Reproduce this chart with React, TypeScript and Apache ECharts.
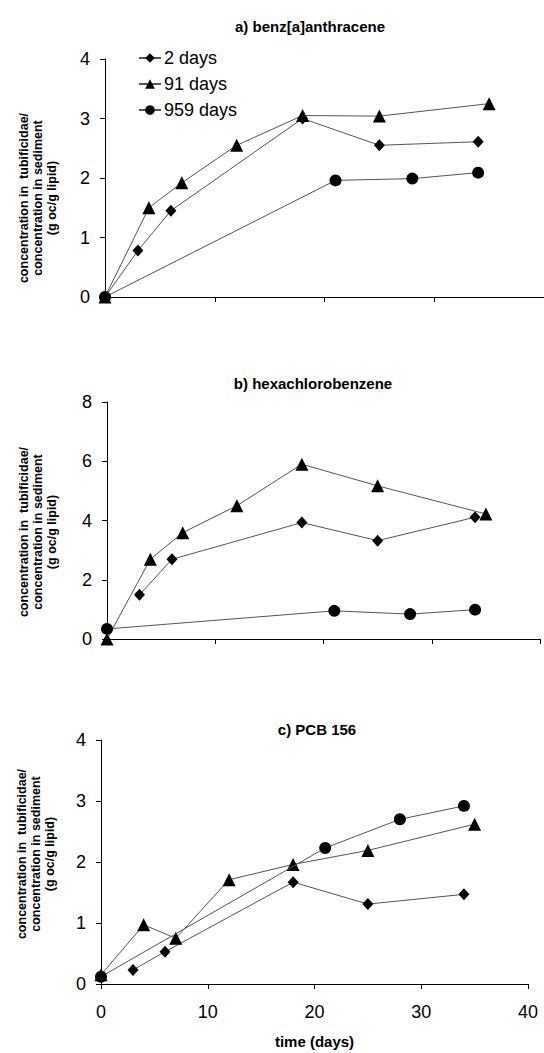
import React, { useEffect, useRef } from "react";
import * as echarts from "echarts";

const seriesNames = ["2 days", "91 days", "959 days"];
const symbols = ["diamond", "triangle", "circle"];
const symbolSizes = [[11, 12], 13, 12];

// panel a) benz[a]anthracene
const aDiamond = [[0, 0], [3, 0.78], [6, 1.45], [18, 3.0], [25, 2.55], [34, 2.61]];
const aTriangle = [[0, 0], [4, 1.5], [7, 1.92], [12, 2.55], [18, 3.05], [25, 3.04], [35, 3.25]];
const aCircle = [[0, 0], [21, 1.96], [28, 1.99], [34, 2.09]];

// panel b) hexachlorobenzene
const bDiamond = [[3, 1.49], [6, 2.69], [18, 3.93], [25, 3.32], [34, 4.11]];
const bTriangle = [[0, 0], [4, 2.69], [7, 3.59], [12, 4.5], [18, 5.9], [25, 5.17], [35, 4.22]];
const bCircle = [[0, 0.34], [21, 0.95], [28, 0.84], [34, 0.99]];

// panel c) PCB 156
const cDiamond = [[3, 0.23], [6, 0.53], [18, 1.67], [25, 1.31], [34, 1.47]];
const cTriangle = [[0, 0.15], [4, 0.97], [7, 0.75], [12, 1.71], [18, 1.96], [25, 2.19], [35, 2.62]];
const cCircle = [[0, 0.12], [21, 2.23], [28, 2.7], [34, 2.92]];

const titles = ["a) benz[a]anthracene", "b) hexachlorobenzene", "c) PCB 156"];
const yMax = [4, 8, 4];
const yInterval = [1, 2, 1];
const xMax = 40;
const xInterval = 10;
const yName = "concentration in  tubificidae/\nconcentration in sediment\n(g oc/g lipid)";
const xName = "time (days)";

const FONT = "Liberation Sans, Arial, sans-serif";

export default function App() {
  const ref = useRef<HTMLDivElement>(null);
  useEffect(() => {
    if (!ref.current) return;
    const chart = echarts.init(ref.current, null, { renderer: "svg" });
    const grids = [
      { left: 105, top: 59, width: 440, height: 238 },
      { left: 107, top: 402, width: 433, height: 237 },
      { left: 101, top: 740, width: 427, height: 244 },
    ];
    const titleTops = [14, 371, 717];
    const titleLefts = [305, 308, 312];
    const yNameCenters = [[38, 198], [38, 532], [36, 854]];
    const panels = [
      [aDiamond, aTriangle, aCircle],
      [bDiamond, bTriangle, bCircle],
      [cDiamond, cTriangle, cCircle],
    ];
    const axisLine = { show: true, lineStyle: { color: "#000", width: 1 } };
    const axisTick = { show: true, inside: false, length: 5, lineStyle: { color: "#000" } };
    const series: any[] = [];
    panels.forEach((p, pi) => {
      p.forEach((d, si) => {
        series.push({
          type: "line",
          name: seriesNames[si],
          xAxisIndex: pi,
          yAxisIndex: pi,
          data: d,
          symbol: symbols[si],
          symbolSize: symbolSizes[si],
          showAllSymbol: true,
          clip: false,
          lineStyle: { color: "#555", width: 1 },
          itemStyle: { color: "#000" },
          z: 3 + si,
        });
      });
    });
    chart.setOption({
      animation: false,
      backgroundColor: "#fff",
      textStyle: { fontFamily: FONT },
      title: titles.map((t, i) => ({
        text: t,
        left: titleLefts[i],
        top: titleTops[i],
        textAlign: "center",
        textStyle: { fontSize: 15, fontWeight: "bold", color: "#000", fontFamily: FONT },
      })),
      legend: {
        data: seriesNames,
        orient: "vertical",
        left: 133,
        top: 44,
        itemWidth: 22,
        itemHeight: 12,
        itemGap: 8,
        textStyle: { fontSize: 18, color: "#000", fontFamily: FONT, lineHeight: 18, padding: [0, 0, 0, -2] },
      },
      graphic: yNameCenters.map((c) => ({
        type: "text",
        x: c[0],
        y: c[1],
        rotation: Math.PI / 2,
        style: {
          text: yName,
          align: "center",
          verticalAlign: "middle",
          fontSize: 12.5,
          fontWeight: "bold",
          fontFamily: FONT,
          lineHeight: 14,
          fill: "#000",
        },
      })),
      grid: grids.map((g) => ({ ...g, containLabel: false })),
      xAxis: grids.map((g, i) => ({
        type: "value",
        gridIndex: i,
        min: 0,
        max: xMax,
        interval: xInterval,
        axisLine,
        axisTick,
        splitLine: { show: false },
        axisLabel: {
          show: i === 2,
          fontSize: 18,
          color: "#000",
          margin: 19,
          fontFamily: FONT,
        },
        name: i === 2 ? xName : "",
        nameLocation: "middle",
        nameGap: 50,
        nameTextStyle: { fontSize: 15, fontWeight: "bold", color: "#000", fontFamily: FONT },
      })),
      yAxis: grids.map((g, i) => ({
        type: "value",
        gridIndex: i,
        min: 0,
        max: yMax[i],
        interval: yInterval[i],
        axisLine,
        axisTick,
        splitLine: { show: false },
        axisLabel: { fontSize: 18, color: "#000", margin: 15, fontFamily: FONT },
      })),
      series,
    });
    return () => chart.dispose();
  }, []);
  return (
    <div
      ref={ref}
      style={{ position: "absolute", left: 0, top: 0, width: 544, height: 1053 }}
    />
  );
}
